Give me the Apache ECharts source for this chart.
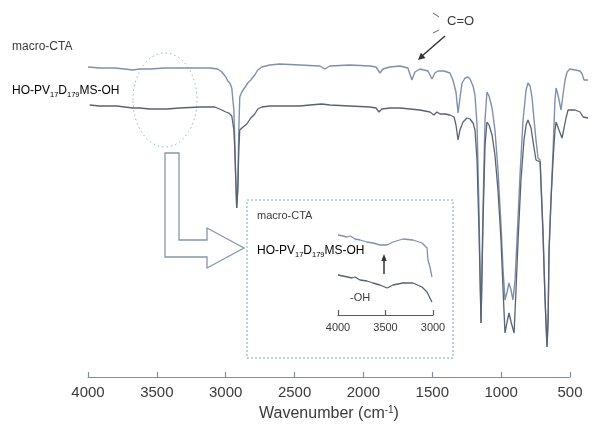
<!DOCTYPE html>
<html>
<head>
<meta charset="utf-8">
<script src="https://cdn.jsdelivr.net/npm/echarts@6/dist/echarts.min.js"></script>
<style>
  html, body { margin: 0; padding: 0; background: #ffffff; }
  #chart { width: 603px; height: 436px; }
</style>
</head>
<body>
<div id="chart"></div>
<script>
// FTIR spectra: wavenumber (cm-1) vs. transmittance (arbitrary units, offset traces)
const macroCtaSpectrum = [
  [4000, 310], [3915, 309], [3806, 309], [3733, 308], [3675, 307], [3624, 308], [3552, 308],
  [3443, 309], [3334, 309], [3188, 309], [3116, 309], [3058, 308], [3028, 305], [2999, 300],
  [2985, 296], [2970, 294], [2956, 289], [2941, 267], [2934, 237], [2927, 197], [2920, 169],
  [2912, 192], [2905, 247], [2898, 280], [2883, 285], [2869, 287], [2854, 291], [2840, 294],
  [2818, 297], [2789, 302], [2767, 307], [2738, 310], [2680, 312], [2607, 313], [2462, 312],
  [2316, 311], [2280, 308], [2244, 311], [2098, 312], [1953, 311], [1909, 310], [1880, 304],
  [1858, 308], [1808, 310], [1735, 311], [1677, 309], [1648, 297], [1626, 305], [1590, 308],
  [1531, 306], [1502, 298], [1481, 304], [1459, 306], [1415, 306], [1372, 304], [1350, 297],
  [1328, 285], [1313, 264], [1299, 279], [1284, 294], [1262, 299], [1241, 300], [1226, 298],
  [1204, 291], [1190, 282], [1175, 252], [1161, 167], [1146, 54], [1132, 167], [1117, 257],
  [1103, 285], [1088, 281], [1066, 269], [1045, 247], [1023, 207], [1001, 152], [986, 107],
  [972, 77], [957, 85], [943, 94], [928, 87], [914, 77], [899, 97], [885, 137], [863, 202],
  [841, 257], [819, 287], [805, 294], [790, 291], [776, 280], [761, 257], [747, 237],
  [732, 219], [717, 217], [710, 192], [696, 147], [681, 77], [667, 30], [659, 57], [652, 127],
  [638, 177], [623, 227], [609, 277], [601, 289], [587, 282], [565, 267], [551, 282],
  [536, 297], [521, 305], [500, 308], [463, 307], [427, 306], [412, 303], [398, 297], [369, 297]
];

const hoPvdmsOhSpectrum = [
  [3988, 272], [3915, 271], [3842, 271], [3791, 271], [3733, 270], [3675, 269], [3624, 269],
  [3552, 268], [3428, 268], [3334, 269], [3188, 270], [3079, 270], [3028, 267], [2999, 265],
  [2978, 264], [2956, 261], [2941, 247], [2934, 227], [2927, 197], [2920, 169], [2912, 187],
  [2905, 227], [2898, 247], [2883, 249], [2869, 251], [2847, 253], [2818, 259], [2789, 263],
  [2767, 268], [2738, 270], [2680, 271], [2534, 271], [2462, 271], [2389, 272], [2302, 273],
  [2244, 272], [2098, 271], [1953, 270], [1909, 269], [1887, 265], [1866, 268], [1808, 269],
  [1735, 269], [1662, 268], [1590, 267], [1517, 265], [1488, 262], [1466, 265], [1444, 263],
  [1408, 263], [1372, 262], [1342, 260], [1328, 252], [1313, 237], [1299, 247], [1277, 255],
  [1248, 259], [1226, 258], [1204, 254], [1190, 247], [1175, 217], [1161, 147], [1146, 54],
  [1132, 152], [1117, 232], [1103, 255], [1088, 252], [1066, 242], [1045, 222], [1023, 187],
  [1001, 137], [986, 87], [972, 44], [957, 55], [943, 64], [928, 55], [906, 44], [892, 87],
  [877, 137], [856, 197], [834, 237], [819, 252], [805, 257], [783, 249], [761, 229],
  [747, 217], [717, 215], [710, 192], [696, 142], [681, 77], [667, 30], [659, 57], [652, 127],
  [638, 177], [623, 217], [609, 247], [601, 255], [580, 247], [558, 239], [543, 249],
  [529, 259], [514, 267], [463, 267], [427, 265], [405, 260], [369, 259]
];

// Enlarged O-H stretching region (4000-3000 cm-1)
const insetMacroCta = [
  [4000, 80], [3947, 79], [3905, 78], [3870, 79], [3821, 76], [3768, 75], [3695, 73],
  [3632, 72], [3558, 70], [3484, 70], [3421, 73], [3316, 76], [3211, 75], [3116, 72],
  [3063, 67], [3053, 55], [3032, 48], [3011, 38]
];
const insetHoPvdmsOh = [
  [4000, 40], [3947, 39], [3853, 37], [3821, 38], [3768, 35], [3695, 34], [3632, 32],
  [3558, 30], [3484, 27], [3421, 30], [3316, 32], [3211, 32], [3116, 28], [3063, 23],
  [3032, 17], [3011, 13]
];

const mainTicks = { min: 500, max: 4000, step: 500 };
const insetTicks = { min: 3000, max: 4000, step: 500 };
// the recorded traces run a little past the last labelled tick
const traceLowEnd = 360;
const axisTitle = 'Wavenumber (cm';

const FONT = '"Liberation Sans", Arial, Helvetica, sans-serif';
const TEXT = '#3a3a3a';
const AXIS = '#7f8ea8';
const TRACE_TOP = '#8090aa';
const TRACE_LOW = '#596173';

// plot frame (px)
const PLOT_LEFT = 88, PLOT_WIDTH = 482, PLOT_TOP = 40, PLOT_BOTTOM = 59;
const pxPerUnit = PLOT_WIDTH / (mainTicks.max - mainTicks.min);

const chart = echarts.init(document.getElementById('chart'), null, { renderer: 'canvas' });

const subRich = {
  n: { fontSize: 12, fontFamily: FONT, color: TEXT, lineHeight: 15, verticalAlign: 'middle' },
  s: { fontSize: 7.5, fontFamily: FONT, color: TEXT, lineHeight: 15, verticalAlign: 'bottom' }
};
const plain = v => String(v);

chart.setOption({
  animation: false,
  backgroundColor: '#ffffff',
  grid: [
    // labelled axis frame
    { left: PLOT_LEFT, width: PLOT_WIDTH, top: PLOT_TOP, bottom: PLOT_BOTTOM },
    // trace frame: same scale, extended to the end of the recorded range
    { left: PLOT_LEFT, width: (mainTicks.max - traceLowEnd) * pxPerUnit, top: PLOT_TOP, bottom: PLOT_BOTTOM },
    // enlarged view
    { left: 338, width: 95, top: 225, bottom: 121 }
  ],
  xAxis: [
    {
      gridIndex: 0, type: 'value', inverse: true,
      min: mainTicks.min, max: mainTicks.max, interval: mainTicks.step,
      name: '{a|' + axisTitle + '}{s|-1}{a|)}',
      nameLocation: 'middle', nameGap: 27,
      nameTextStyle: {
        rich: {
          a: { fontSize: 16, fontFamily: FONT, color: TEXT, lineHeight: 18 },
          s: { fontSize: 10, fontFamily: FONT, color: TEXT, lineHeight: 18, verticalAlign: 'top' }
        }
      },
      axisLine: { lineStyle: { color: AXIS, width: 1.2 } },
      axisTick: { inside: true, length: 5, lineStyle: { color: AXIS, width: 1.2 } },
      axisLabel: { fontSize: 15, fontFamily: FONT, color: TEXT, margin: 8, formatter: plain,
                   showMinLabel: true, showMaxLabel: true },
      splitLine: { show: false }
    },
    {
      gridIndex: 1, type: 'value', inverse: true,
      min: traceLowEnd, max: mainTicks.max, show: false
    },
    {
      gridIndex: 2, type: 'value', inverse: true,
      min: insetTicks.min, max: insetTicks.max, interval: insetTicks.step,
      axisLine: { lineStyle: { color: '#555b66', width: 1.2 } },
      axisTick: { inside: true, length: 5, lineStyle: { color: '#555b66', width: 1.2 } },
      axisLabel: { fontSize: 11, fontFamily: FONT, color: TEXT, margin: 7, formatter: plain,
                   showMinLabel: true, showMaxLabel: true },
      splitLine: { show: false }
    }
  ],
  yAxis: [
    { gridIndex: 0, type: 'value', min: 0, max: 337, show: false },
    { gridIndex: 1, type: 'value', min: 0, max: 337, show: false },
    { gridIndex: 2, type: 'value', min: 0, max: 90, show: false }
  ],
  series: [
    {
      name: 'macro-CTA', type: 'line', xAxisIndex: 1, yAxisIndex: 1,
      data: macroCtaSpectrum, showSymbol: false,
      lineStyle: { color: TRACE_TOP, width: 1.4 }
    },
    {
      name: 'HO-PV17D179MS-OH', type: 'line', xAxisIndex: 1, yAxisIndex: 1,
      data: hoPvdmsOhSpectrum, showSymbol: false,
      lineStyle: { color: TRACE_LOW, width: 1.3 }
    },
    {
      name: 'macro-CTA (OH region)', type: 'line', xAxisIndex: 2, yAxisIndex: 2,
      data: insetMacroCta, showSymbol: false,
      lineStyle: { color: TRACE_TOP, width: 1.3 }
    },
    {
      name: 'HO-PV17D179MS-OH (OH region)', type: 'line', xAxisIndex: 2, yAxisIndex: 2,
      data: insetHoPvdmsOh, showSymbol: false,
      lineStyle: { color: TRACE_LOW, width: 1.3 }
    }
  ],
  graphic: [
    // trace labels
    { type: 'text', left: 12, top: 41, style: { text: 'macro-CTA', font: '12px ' + FONT, fill: TEXT } },
    { type: 'text', left: 12, top: 85, style: { text: '{n|HO-PV}{s|17}{n|D}{s|179}{n|MS-OH}', rich: subRich } },
    // carbonyl annotation
    { type: 'text', left: 447, top: 15, style: { text: 'C=O', font: '13px ' + FONT, fill: TEXT } },
    { type: 'line', shape: { x1: 433, y1: 13, x2: 439, y2: 17 }, style: { stroke: '#666', lineWidth: 1 } },
    { type: 'line', shape: { x1: 433, y1: 33, x2: 439, y2: 30 }, style: { stroke: '#666', lineWidth: 1 } },
    { type: 'line', shape: { x1: 445, y1: 36, x2: 422, y2: 56 }, style: { stroke: '#333', lineWidth: 1.5 } },
    { type: 'polygon', shape: { points: [[418, 60], [425.5, 58], [420.9, 52.8]] }, style: { fill: '#333' } },
    // highlighted O-H region
    { type: 'ellipse', shape: { cx: 165, cy: 100, rx: 32, ry: 47 },
      style: { fill: 'none', stroke: '#8fbad4', lineWidth: 1, lineDash: [1.5, 3] } },
    // hollow pointer towards the enlarged view
    { type: 'polygon',
      shape: { points: [[165, 153], [179, 153], [179, 240], [207, 240], [207, 228], [244, 248], [207, 268], [207, 257], [165, 257]] },
      style: { fill: 'none', stroke: '#8796ae', lineWidth: 1.3 } },
    // enlarged view frame
    { type: 'rect', shape: { x: 247, y: 200, width: 206, height: 158 },
      style: { fill: 'none', stroke: '#7fa2c4', lineWidth: 1, lineDash: [2, 2] } },
    { type: 'text', left: 257, top: 210, style: { text: 'macro-CTA', font: '11px ' + FONT, fill: TEXT } },
    { type: 'text', left: 257, top: 245, style: { text: '{n|HO-PV}{s|17}{n|D}{s|179}{n|MS-OH}', rich: subRich } },
    { type: 'text', left: 350, top: 292, style: { text: '-OH', font: '11px ' + FONT, fill: TEXT } },
    { type: 'line', shape: { x1: 384, y1: 274, x2: 384, y2: 259 }, style: { stroke: '#333', lineWidth: 1.5 } },
    { type: 'polygon', shape: { points: [[384, 254], [381.3, 261], [386.7, 261]] }, style: { fill: '#333' } }
  ]
});
</script>
</body>
</html>
